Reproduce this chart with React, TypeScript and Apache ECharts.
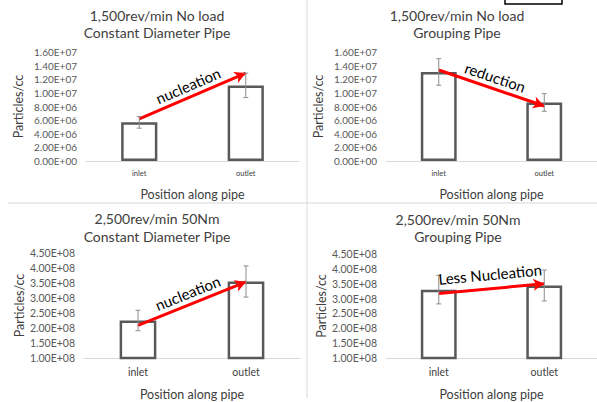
import React, { useEffect, useRef } from "react";
import * as echarts from "echarts";

const categories = ["inlet", "outlet"];
const titles = [
  ["1,500rev/min No load", "Constant Diameter Pipe"],
  ["1,500rev/min No load", "Grouping Pipe"],
  ["2,500rev/min 50Nm", "Constant Diameter Pipe"],
  ["2,500rev/min 50Nm", "Grouping Pipe"],
];
const means = [
  [5.67e6, 1.11e7],
  [1.307e7, 8.59e6],
  [2.25e8, 3.55e8],
  [3.3e8, 3.44e8],
];
const errors = [
  [0.85e6, 1.79e6],
  [1.95e6, 1.29e6],
  [0.34e8, 0.52e8],
  [0.48e8, 0.52e8],
];
const yMin = [0, 0, 1e8, 1e8];
const yMax = [1.6e7, 1.6e7, 4.5e8, 4.5e8];
const yStep = [2e6, 2e6, 0.5e8, 0.5e8];
const arrowTexts = ["nucleation", "reduction", "nucleation", "Less Nucleation"];
// arrow endpoints in data coords: [catIndex, value]
const arrowStart = [
  [0.01, 6.17e6],
  [0.02, 1.336e7],
  [0.04, 2.09e8],
  [0.03, 3.17e8],
];
const arrowEnd = [
  [0.88, 1.29e7],
  [0.92, 8.07e6],
  [0.92, 3.54e8],
  [0.9, 3.5e8],
];

const FONT = "Lato, 'Open Sans', sans-serif";

export default function App() {
  const ref = useRef<HTMLDivElement>(null);
  useEffect(() => {
    if (!ref.current) return;
    const chart = echarts.init(ref.current, null, { renderer: "svg" });

    const grids = [
      { left: 86, top: 52, width: 213, height: 109 },
      { left: 386, top: 52, width: 212, height: 109 },
      { left: 84, top: 253, width: 216, height: 109 },
      { left: 386, top: 254, width: 212, height: 108 },
    ];
    const nameGapY = [61, 61, 55, 57];
    const nameGapX = [27, 27, 30, 30];
    const xLabelSize = [7.5, 7.5, 10.5, 10.5];
    const yLabelSize = [10, 10, 10.5, 10.5];

    const fmt = (v: number) => {
      if (v === 0) return "0.00E+00";
      const e = Math.floor(Math.log10(Math.abs(v)) + 1e-9);
      const m = v / Math.pow(10, e);
      return m.toFixed(2) + "E+" + (e < 10 ? "0" + e : String(e));
    };

    const xAxis = grids.map((_, i) => ({
      type: "category",
      gridIndex: i,
      data: categories,
      boundaryGap: true,
      axisLine: { lineStyle: { color: "#d9d9d9", width: 1 } },
      axisTick: { show: false },
      axisLabel: { color: "#404040", fontSize: xLabelSize[i], fontFamily: FONT, margin: 8 },
      name: "Position along pipe",
      nameLocation: "middle",
      nameGap: nameGapX[i],
      nameTextStyle: { color: "#404040", fontSize: 12.5, fontFamily: FONT },
    }));
    const yAxis = grids.map((_, i) => ({
      type: "value",
      gridIndex: i,
      min: yMin[i],
      max: yMax[i],
      interval: yStep[i],
      splitLine: { show: false },
      axisLine: { show: false },
      axisTick: { show: false },
      axisLabel: { color: "#595959", fontSize: yLabelSize[i], fontFamily: FONT, margin: 9, formatter: fmt },
      name: "Particles/cc",
      nameLocation: "middle",
      nameGap: nameGapY[i],
      nameRotate: 90,
      nameTextStyle: { color: "#404040", fontSize: 12.5, fontFamily: FONT },
    }));

    const series: any[] = [];
    grids.forEach((_, i) => {
      series.push({
        type: "bar",
        xAxisIndex: i,
        yAxisIndex: i,
        data: means[i],
        barWidth: "34%",
        itemStyle: { color: "#ffffff", borderColor: "#595959", borderWidth: 2.5 },
        silent: true,
        markLine: {
          silent: true,
          symbol: ["none", "arrow"],
          symbolSize: [9, 11],
          lineStyle: { color: "#ff0000", width: 3, type: "solid" },
          label: {
            show: true,
            formatter: arrowTexts[i],
            position: "insideMiddleTop",
            color: "#000000",
            fontSize: 15,
            fontFamily: FONT,
            distance: i === 3 ? 7 : 4,
          },
          data: [[{ coord: arrowStart[i] }, { coord: arrowEnd[i] }]],
        },
      });
      series.push({
        type: "custom",
        xAxisIndex: i,
        yAxisIndex: i,
        silent: true,
        z: 5,
        data: means[i].map((m, k) => [k, m - errors[i][k], m + errors[i][k]]),
        renderItem: (params: any, api: any) => {
          const x = api.value(0);
          const lo = api.coord([x, api.value(1)]);
          const hi = api.coord([x, api.value(2)]);
          const c = 2.5;
          const style = { stroke: "#8c8c8c", lineWidth: 1 };
          return {
            type: "group",
            children: [
              { type: "line", shape: { x1: lo[0], y1: lo[1], x2: hi[0], y2: hi[1] }, style },
              { type: "line", shape: { x1: lo[0] - c, y1: lo[1], x2: lo[0] + c, y2: lo[1] }, style },
              { type: "line", shape: { x1: hi[0] - c, y1: hi[1], x2: hi[0] + c, y2: hi[1] }, style },
            ],
          };
        },
      });
    });

    const titleCenters = [
      [157, 15, 32],
      [457, 15, 32],
      [157, 218, 236],
      [458, 219, 236],
    ];
    const graphic: any[] = [
      { type: "line", shape: { x1: 307, y1: 0, x2: 307, y2: 398 }, style: { stroke: "#d9d9d9", lineWidth: 1 } },
      { type: "line", shape: { x1: 8, y1: 203, x2: 597, y2: 203 }, style: { stroke: "#d9d9d9", lineWidth: 1 } },
      { type: "rect", shape: { x: 505, y: -3, width: 57, height: 7 }, style: { fill: "#ffffff", stroke: "#000000", lineWidth: 1.5 } },
    ];
    titles.forEach((t, i) => {
      const [cx, y1, y2] = titleCenters[i];
      [t[0], t[1]].forEach((s, k) => {
        graphic.push({
          type: "text",
          x: cx,
          y: k === 0 ? y1 : y2,
          style: {
            text: s,
            fill: "#404040",
            font: `14px ${FONT}`,
            textAlign: "center",
            textVerticalAlign: "middle",
          },
        });
      });
    });

    chart.setOption({
      animation: false,
      backgroundColor: "#ffffff",
      grid: grids,
      xAxis,
      yAxis,
      series,
      graphic,
    });
    return () => chart.dispose();
  }, []);
  return (
    <div
      ref={ref}
      style={{ position: "fixed", left: 0, top: 0, width: 597, height: 402 }}
    />
  );
}
